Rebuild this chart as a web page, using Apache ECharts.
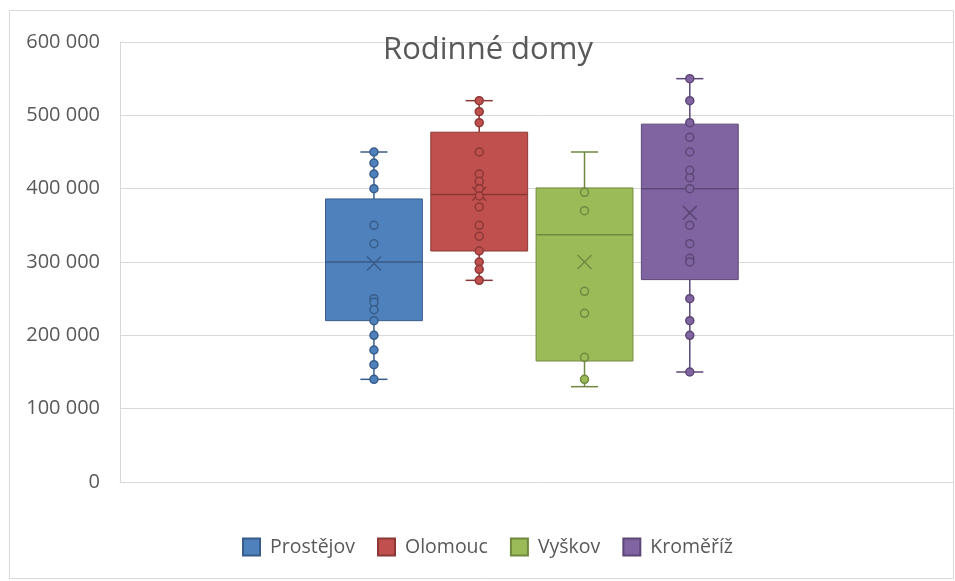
<!DOCTYPE html>
<html>
<head>
<meta charset="utf-8">
<script src="https://cdn.jsdelivr.net/npm/echarts@6/dist/echarts.min.js"></script>
<style>html,body{margin:0;padding:0;background:#fff}#c{width:955px;height:581px}</style>
</head>
<body>
<div id="c"></div>
<script>
// ---- data ----
const chartTitle = 'Rodinné domy';
const categories = ['Prostějov', 'Olomouc', 'Vyškov', 'Kroměříž'];
const yTickLabels = ['0', '100 000', '200 000', '300 000', '400 000', '500 000', '600 000'];

// individual points (markers)
const prostejovPoints = [450000, 435000, 420000, 400000, 350000, 325000, 250000, 245000, 235000, 220000, 200000, 180000, 160000, 140000];
const olomoucPoints = [520000, 505000, 490000, 450000, 420000, 410000, 400000, 390000, 375000, 350000, 335000, 315000, 300000, 290000, 275000];
const vyskovPoints = [395000, 370000, 260000, 230000, 170000, 140000];
const kromerizPoints = [550000, 520000, 490000, 470000, 450000, 425000, 415000, 400000, 350000, 325000, 305000, 300000, 250000, 220000, 200000, 150000];

// box statistics: [min, Q1, median, Q3, max]
const prostejovBox = [140000, 220000, 300000, 386000, 450000];
const olomoucBox = [275000, 315000, 392000, 477000, 520000];
const vyskovBox = [130000, 165000, 337000, 401000, 450000];
const kromerizBox = [150000, 276000, 400000, 488000, 550000];

// mean (X marker)
const means = [298000, 393000, 300000, 367000];

// ---- styling ----
const fills = ['#4f81bd', '#c0504d', '#9bbb59', '#8064a2'];
const darks = ['#385d8a', '#8c3836', '#71893f', '#5c4776'];
const FONT = '"Open Sans", "Noto Sans", sans-serif';
const TXT = '#595959';

const allPoints = [prostejovPoints, olomoucPoints, vyskovPoints, kromerizPoints];
const allBoxes = [prostejovBox, olomoucBox, vyskovBox, kromerizBox];

function renderBox(params, api) {
  const x = api.value(0);
  const mn = api.value(1), q1 = api.value(2), md = api.value(3), q3 = api.value(4), mx = api.value(5), mean = api.value(6);
  const pMin = api.coord([x, mn]), pQ1 = api.coord([x, q1]), pMd = api.coord([x, md]);
  const pQ3 = api.coord([x, q3]), pMax = api.coord([x, mx]), pMean = api.coord([x, mean]);
  const bw = api.size([1, 0])[0] * 0.92;
  const capHalf = bw * 0.14;
  const cx = pMd[0];
  const i = params.seriesIndex;
  const dark = darks[i];
  const xs = 7;
  return {
    type: 'group',
    children: [
      { type: 'line', shape: { x1: cx, y1: pMax[1], x2: cx, y2: pQ3[1] }, style: { stroke: dark, lineWidth: 1.5 } },
      { type: 'line', shape: { x1: cx, y1: pQ1[1], x2: cx, y2: pMin[1] }, style: { stroke: dark, lineWidth: 1.5 } },
      { type: 'line', shape: { x1: cx - capHalf, y1: pMax[1], x2: cx + capHalf, y2: pMax[1] }, style: { stroke: dark, lineWidth: 1.5 } },
      { type: 'line', shape: { x1: cx - capHalf, y1: pMin[1], x2: cx + capHalf, y2: pMin[1] }, style: { stroke: dark, lineWidth: 1.5 } },
      { type: 'rect', shape: { x: cx - bw / 2, y: pQ3[1], width: bw, height: pQ1[1] - pQ3[1] }, style: { fill: fills[i], stroke: dark, lineWidth: 1 } },
      { type: 'line', shape: { x1: cx - bw / 2, y1: pMd[1], x2: cx + bw / 2, y2: pMd[1] }, style: { stroke: dark, lineWidth: 1.5 } },
      { type: 'line', shape: { x1: cx - xs, y1: pMean[1] - xs, x2: cx + xs, y2: pMean[1] + xs }, style: { stroke: dark, lineWidth: 1.5 } },
      { type: 'line', shape: { x1: cx - xs, y1: pMean[1] + xs, x2: cx + xs, y2: pMean[1] - xs }, style: { stroke: dark, lineWidth: 1.5 } }
    ]
  };
}

const series = [];
categories.forEach((name, i) => {
  series.push({
    name: name,
    type: 'custom',
    renderItem: renderBox,
    itemStyle: { color: fills[i], borderColor: darks[i], borderWidth: 1 },
    encode: { x: 0, y: [1, 2, 3, 4, 5, 6] },
    data: [[i + 1].concat(allBoxes[i], [means[i]])],
    z: 2
  });
});
categories.forEach((name, i) => {
  series.push({
    name: name,
    type: 'scatter',
    symbol: 'circle',
    symbolSize: 8,
    itemStyle: { color: fills[i], borderColor: darks[i], borderWidth: 1.5, opacity: 1 },
    data: allPoints[i].map(v => [i + 1, v]),
    z: 3
  });
});

const chart = echarts.init(document.getElementById('c'));
chart.setOption({
  animation: false,
  backgroundColor: '#fff',
  grid: { left: 120, right: 2, top: 42, bottom: 99, containLabel: false },
  xAxis: {
    type: 'value', min: -1.412, max: 6.5,
    axisLine: { show: true, onZero: true, lineStyle: { color: '#d9d9d9', width: 1 } },
    axisTick: { show: false }, axisLabel: { show: false }, splitLine: { show: false }
  },
  yAxis: {
    type: 'value', min: 0, max: 600000, interval: 100000,
    axisLine: { show: true, onZero: false, lineStyle: { color: '#d9d9d9', width: 1 } },
    axisTick: { show: false },
    splitLine: { show: true, lineStyle: { color: '#d9d9d9', width: 1 } },
    axisLabel: {
      margin: 20, color: TXT, fontFamily: FONT, fontSize: 20,
      formatter: v => yTickLabels[Math.round(v / 100000)]
    }
  },
  legend: {
    data: categories, left: 237, top: 532,
    icon: 'rect', itemWidth: 17, itemHeight: 17, itemGap: 22,
    textStyle: { color: TXT, fontFamily: FONT, fontSize: 19.5, padding: [0, 0, 0, 5] },
    selectedMode: false
  },
  graphic: [
    { type: 'rect', z: -10, shape: { x: 9.5, y: 10.5, width: 944, height: 568 }, style: { fill: 'none', stroke: '#d9d9d9', lineWidth: 1 } },
    { type: 'text', x: 488, y: 50, z: 10, style: { text: chartTitle, font: '31px ' + FONT, fill: TXT, textAlign: 'center', textVerticalAlign: 'middle' } }
  ],
  series: series
});
</script>
</body>
</html>
